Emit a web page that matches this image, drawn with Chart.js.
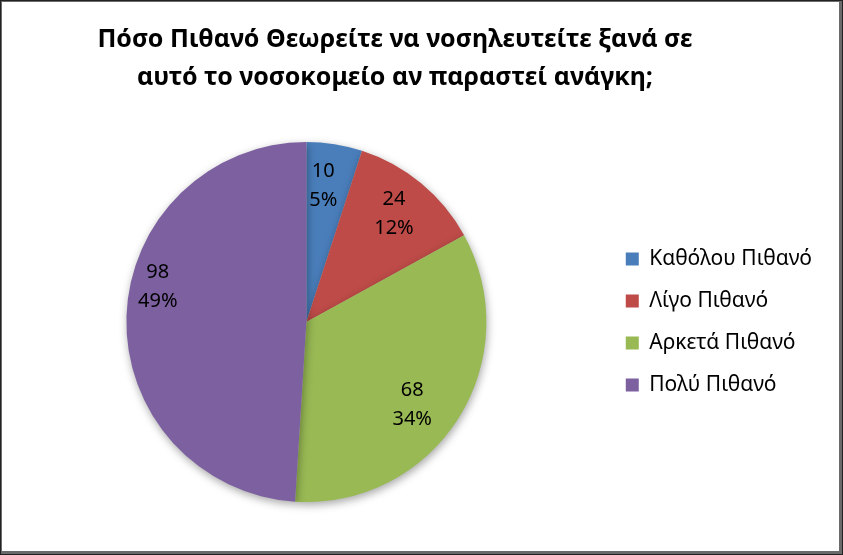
<!DOCTYPE html>
<html>
<head>
<meta charset="utf-8">
<script src="https://cdn.jsdelivr.net/npm/chart.js@4.4.1/dist/chart.umd.min.js"></script>
<style>
  html, body { margin: 0; padding: 0; background: #fff; }
  #wrap {
    position: relative;
    width: 843px;
    height: 555px;
    box-sizing: border-box;
    border-top: 2px solid #6b6b6b;
    border-left: 2px solid #6b6b6b;
    border-right: 4px solid #6b6b6b;
    border-bottom: 4px solid #6b6b6b;
    outline: 1px solid #222;
    outline-offset: -1px;
  }
  canvas { display: block; }
</style>
</head>
<body>
<div id="wrap"><canvas id="pieChart" width="837" height="549"></canvas></div>
<script>
const TITLE_LINES = ['Πόσο Πιθανό Θεωρείτε να νοσηλευτείτε ξανά σε', 'αυτό το νοσοκομείο αν παραστεί ανάγκη;'];
const CATEGORIES = ['Καθόλου Πιθανό', 'Λίγο Πιθανό', 'Αρκετά Πιθανό', 'Πολύ Πιθανό'];
const COUNTS = [10, 24, 68, 98];
const PERCENTS = ['5%', '12%', '34%', '49%'];
const COLORS = ['#4a7ebb', '#be4b48', '#98b954', '#7d60a0'];

const FONT = '"Noto Sans", sans-serif';

// value + percent labels, "best fit" style: radius share and angle nudge (deg) per slice
const LABEL_FIT = [[0.77, -2], [0.78, -1], [0.74, 5], [0.85, 12]];

const sliceLabels = {
  id: 'sliceLabels',
  afterDatasetsDraw(chart) {
    const ctx = chart.ctx;
    const meta = chart.getDatasetMeta(0);
    ctx.save();
    ctx.fillStyle = '#000';
    ctx.font = '20px ' + FONT;
    ctx.textAlign = 'center';
    ctx.textBaseline = 'middle';
    meta.data.forEach((arc, i) => {
      const p = arc.getProps(['x', 'y', 'startAngle', 'endAngle', 'outerRadius']);
      const [share, nudge] = LABEL_FIT[i];
      const mid = (p.startAngle + p.endAngle) / 2 + nudge * Math.PI / 180;
      const r = p.outerRadius * share;
      const cx = p.x + Math.cos(mid) * r;
      const cy = p.y + Math.sin(mid) * r;
      ctx.fillText(String(COUNTS[i]), cx, cy - 13);
      ctx.fillText(PERCENTS[i], cx, cy + 16);
    });
    ctx.restore();
  },
};

// Excel leaves the title a bit left of the chart's middle, so it is drawn here
const chartTitle = {
  id: 'chartTitle',
  afterDraw(chart) {
    const ctx = chart.ctx;
    ctx.save();
    ctx.fillStyle = '#000';
    ctx.font = 'bold 25px ' + FONT;
    ctx.textAlign = 'center';
    ctx.textBaseline = 'middle';
    TITLE_LINES.forEach((line, i) => ctx.fillText(line, 393, 38 + i * 38));
    ctx.restore();
  },
};

// soft shadow under the pie
const pieShadow = {
  id: 'pieShadow',
  beforeDatasetsDraw(chart) {
    const ctx = chart.ctx;
    ctx.save();
    ctx.shadowColor = 'rgba(0,0,0,0.35)';
    ctx.shadowBlur = 8;
    ctx.shadowOffsetX = 1;
    ctx.shadowOffsetY = 3;
  },
  afterDatasetsDraw(chart) {
    chart.ctx.restore();
  },
};

new Chart(document.getElementById('pieChart'), {
  type: 'pie',
  data: {
    labels: CATEGORIES,
    datasets: [{
      data: COUNTS,
      backgroundColor: COLORS,
      borderWidth: 0,
    }],
  },
  options: {
    responsive: false,
    animation: false,
    devicePixelRatio: 1,
    layout: { padding: { left: 6, right: 17, top: 140, bottom: 49 } },
    plugins: {
      title: { display: false },
      legend: {
        position: 'right',
        labels: {
          color: '#000',
          font: { family: FONT, size: 21 },
          boxWidth: 13,
          boxHeight: 13,
          padding: 21,
        },
      },
      tooltip: { enabled: false },
    },
  },
  plugins: [pieShadow, sliceLabels, chartTitle],
});
</script>
</body>
</html>
